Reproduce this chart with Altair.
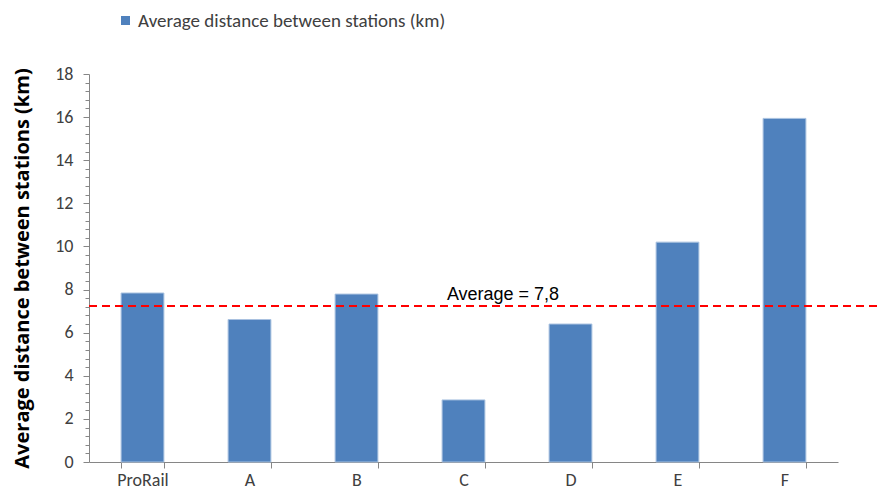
import altair as alt
import pandas as pd

categories = ["ProRail", "A", "B", "C", "D", "E", "F"]
distance_km = [7.84, 6.61, 7.79, 2.88, 6.40, 10.20, 15.94]
series_name = "Average distance between stations (km)"
avg_line_value = 7.24
avg_label = "Average = 7,8"

major_ticks = [0, 2, 4, 6, 8, 10, 12, 14, 16, 18]
minor_ticks = [round(i * 0.4, 1) for i in range(46) if i % 5 != 0]

bars_df = pd.DataFrame({"cat": categories, "val": distance_km, "series": [series_name] * len(categories)})
avg_df = pd.DataFrame({"avg": [avg_line_value], "label": [avg_label]})

W, H = 749, 388
FONT = "Carlito, Lato, sans-serif"
AXIS_GREY = "#868686"
TEXT_GREY = "#404040"

yscale = alt.Scale(domain=[0, 18], nice=False)

bars = alt.Chart(bars_df).mark_bar(stroke="#A9C2E0", strokeWidth=1).encode(
    x=alt.X("cat:N", sort=categories, title=None,
            scale=alt.Scale(paddingInner=0.6, paddingOuter=0.3),
            axis=alt.Axis(tickBand="extent", labelAngle=0, tickSize=6, tickColor=AXIS_GREY,
                          domainColor=AXIS_GREY, labelFont=FONT, labelFontSize=18,
                          labelColor=TEXT_GREY, labelPadding=17, labelBaseline="alphabetic")),
    y=alt.Y("val:Q", scale=yscale,
            axis=alt.Axis(orient="left", values=major_ticks, tickSize=6, tickColor=AXIS_GREY,
                          domainColor=AXIS_GREY, labelFont=FONT, labelFontSize=18,
                          labelColor=TEXT_GREY, labelPadding=10, grid=False,
                          title="Average distance between stations (km)",
                          titleFont="Open Sans, sans-serif", titleFontSize=20, titleFontWeight="bold",
                          titleColor="#000000", titleAngle=270, titleBaseline="middle",
                          titleAlign="center", titleX=-67, titleY=H / 2)),
    color=alt.Color("series:N", scale=alt.Scale(range=["#4F81BD"]),
                    legend=alt.Legend(title=None, orient="none", legendX=27, legendY=-63,
                                      symbolType="square", symbolSize=81, symbolStrokeWidth=0,
                                      labelFont=FONT, labelFontSize=19, labelColor=TEXT_GREY,
                                      labelOffset=3, labelLimit=0, padding=0)),
)

minor = alt.Chart(avg_df).mark_point(opacity=0).encode(
    y=alt.Y("avg:Q", scale=yscale,
            axis=alt.Axis(orient="left", values=minor_ticks, tickSize=4, tickColor=AXIS_GREY,
                          labels=False, domain=False, grid=False, title=None)),
)

avg_rule = alt.Chart(avg_df).mark_rule(color="#FF0000", strokeWidth=2, strokeDash=[8, 5]).encode(
    y=alt.Y("avg:Q", scale=yscale, axis=None),
    x=alt.value(0),
    x2=alt.value(788),
)

avg_text = alt.Chart(avg_df).mark_text(font="Liberation Sans, Arial, sans-serif",
                                        fontSize=18, color="#000000", align="center",
                                        baseline="alphabetic", dy=-6).encode(
    y=alt.Y("avg:Q", scale=yscale, axis=None),
    x=alt.value(414),
    text="label:N",
)

chart = alt.layer(bars, minor, avg_rule, avg_text).resolve_axis(y="independent").properties(
    width=W, height=H,
    autosize=alt.AutoSizeParams(type="none"),
    padding={"left": 81, "top": 66, "right": 39, "bottom": 28},
    background="white",
).configure_view(stroke=None)

chart.save("out.html", embed_options={"renderer": "svg", "actions": False})
